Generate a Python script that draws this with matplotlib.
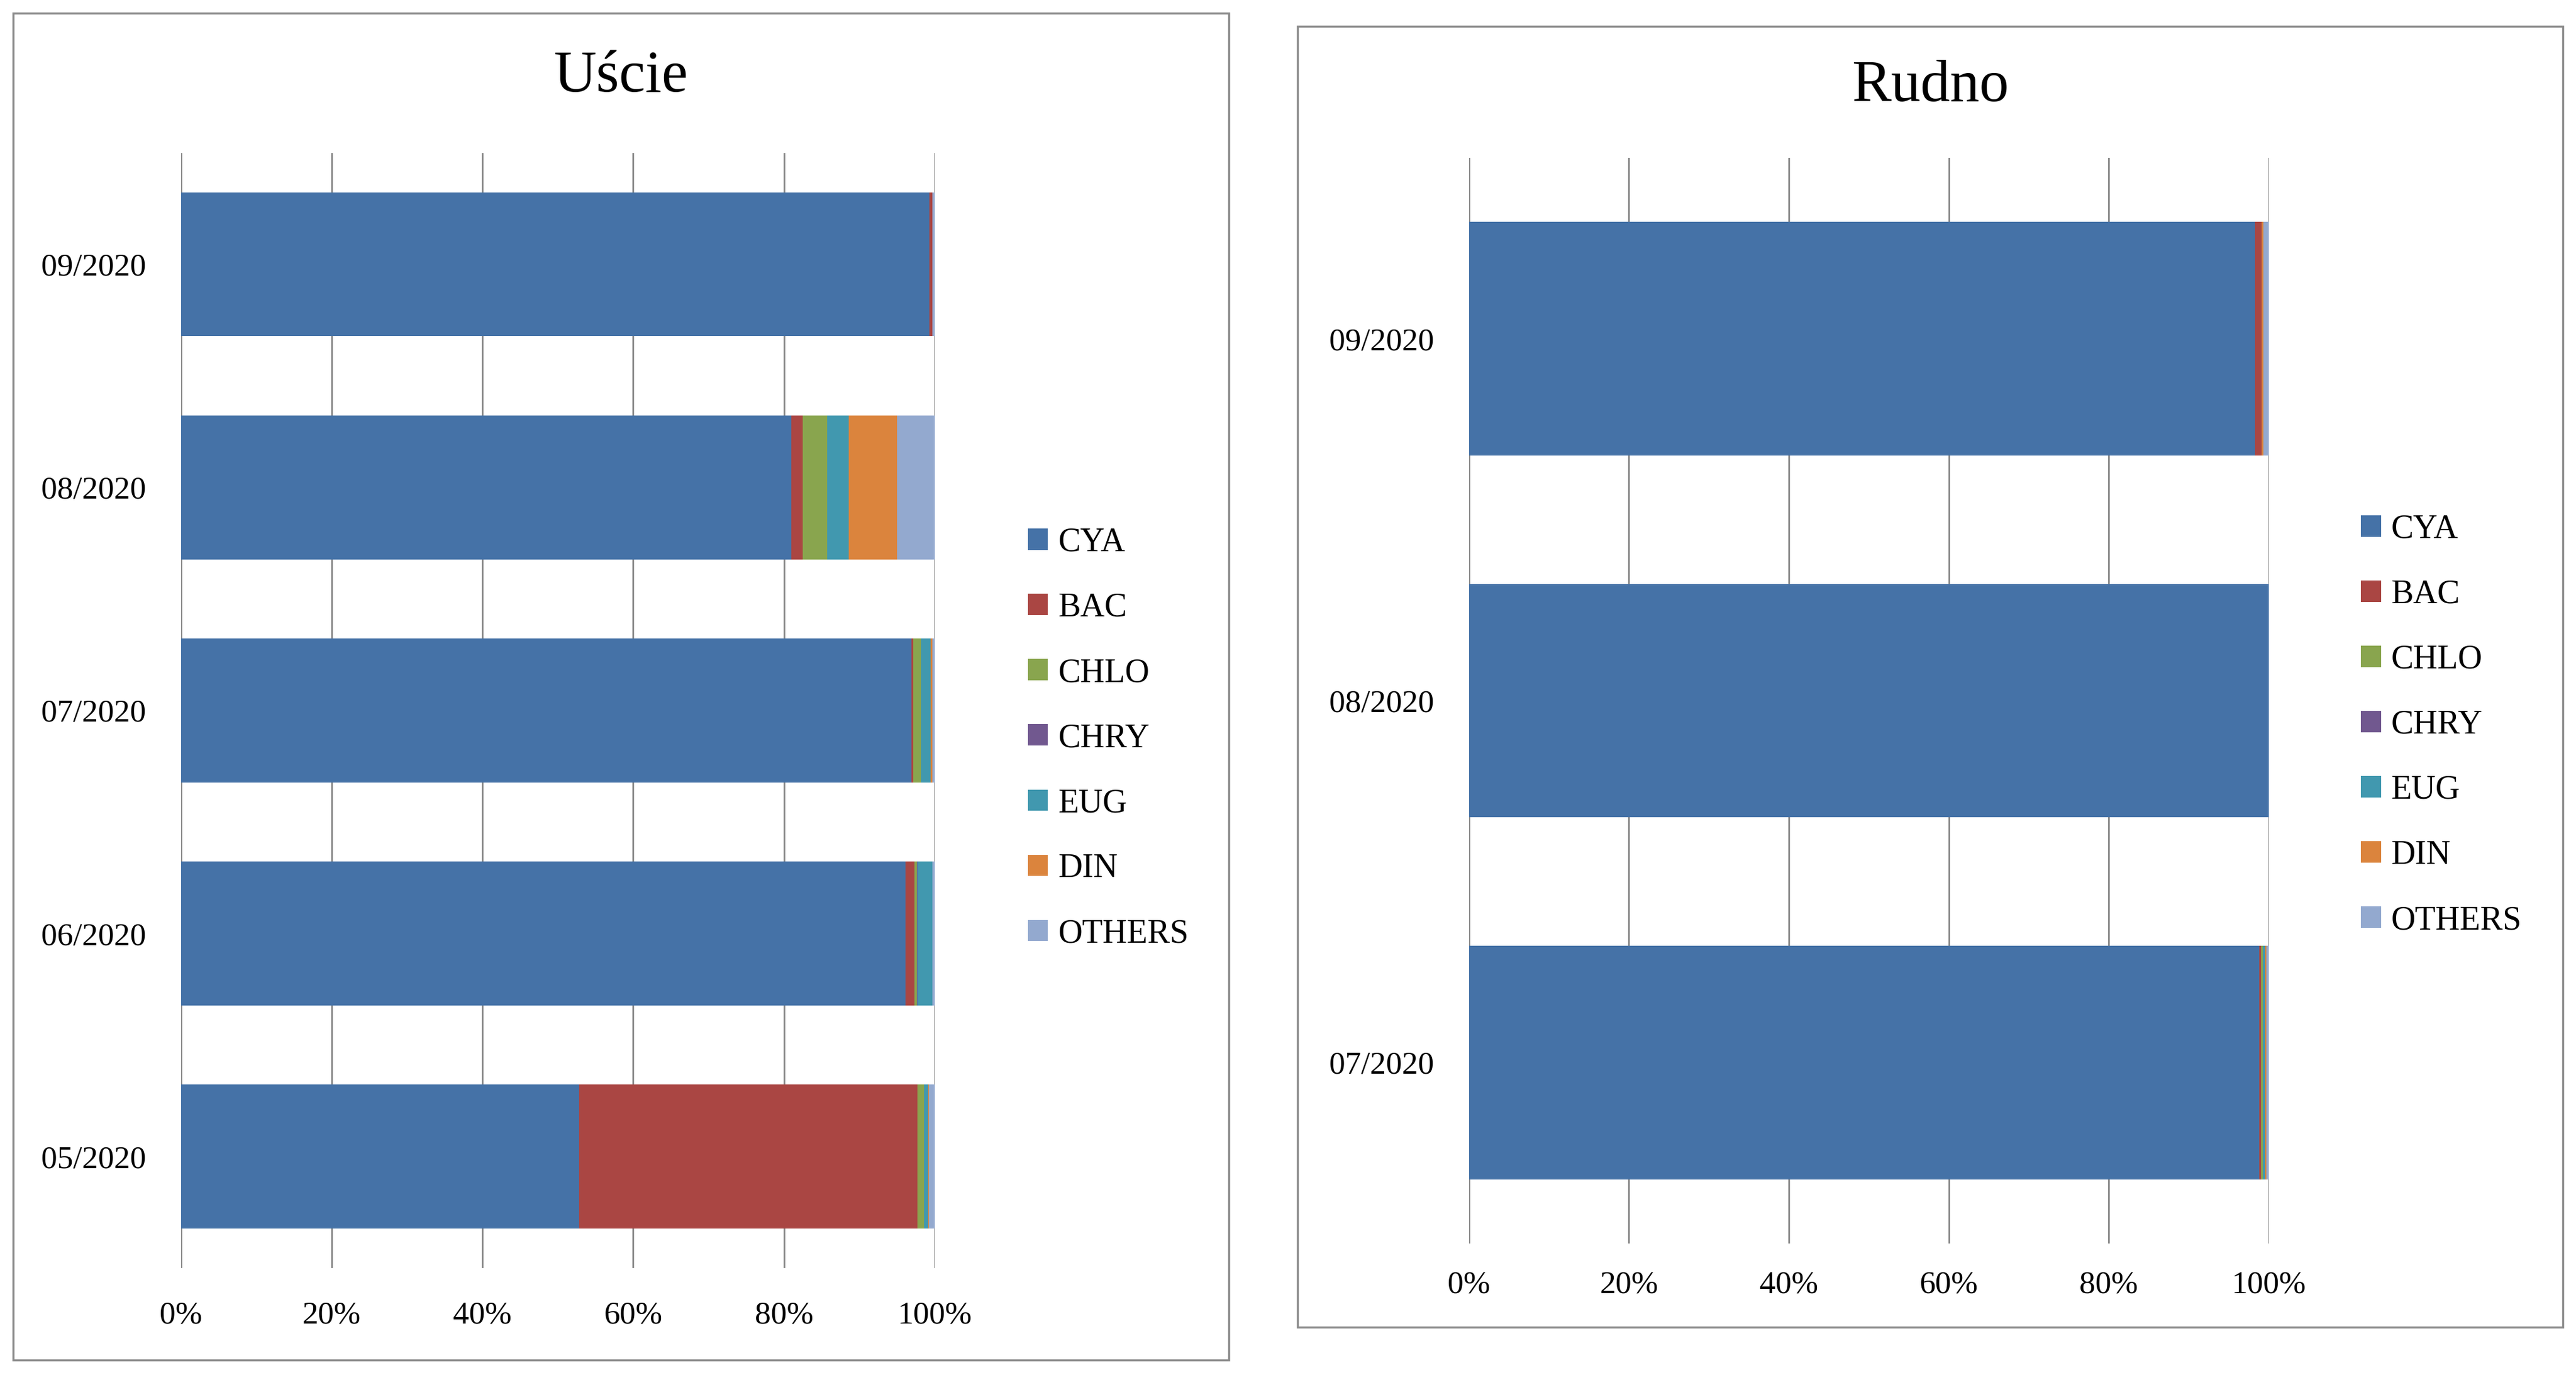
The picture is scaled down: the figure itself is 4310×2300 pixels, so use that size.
import matplotlib.pyplot as plt
import numpy as np
from matplotlib.patches import Rectangle, Patch
from matplotlib.ticker import PercentFormatter

groups = ['CYA', 'BAC', 'CHLO', 'CHRY', 'EUG', 'DIN', 'OTHERS']
colors = ['#4572A7', '#AA4643', '#89A54E', '#71588F', '#4198AF', '#DB843D', '#93A9CF']

# Uście, bottom to top
uscie_months = ['05/2020', '06/2020', '07/2020', '08/2020', '09/2020']
uscie_cya = [52.8, 96.1, 96.9, 81.0, 99.3]
uscie_bac = [44.9, 1.2, 0.2, 1.5, 0.4]
uscie_chlo = [0.9, 0.3, 1.1, 3.2, 0.0]
uscie_chry = [0.0, 0.1, 0.0, 0.0, 0.0]
uscie_eug = [0.5, 2.0, 1.2, 2.9, 0.0]
uscie_din = [0.1, 0.0, 0.3, 6.4, 0.0]
uscie_others = [0.8, 0.3, 0.3, 5.0, 0.3]

# Rudno, bottom to top
rudno_months = ['07/2020', '08/2020', '09/2020']
rudno_cya = [98.8, 100.0, 98.3]
rudno_bac = [0.25, 0.0, 0.8]
rudno_chlo = [0.25, 0.0, 0.0]
rudno_chry = [0.0, 0.0, 0.0]
rudno_eug = [0.25, 0.0, 0.0]
rudno_din = [0.2, 0.0, 0.25]
rudno_others = [0.25, 0.0, 0.65]

plt.rcParams['font.family'] = ['Liberation Serif', 'DejaVu Serif']

fig = plt.figure(figsize=(43.1, 23), dpi=100)


def panel(rect, months, series, title, title_xy, leg_xy, pad_x, frame):
    fig.patches.append(Rectangle(frame[:2], frame[2], frame[3], transform=fig.transFigure,
                                 fill=False, edgecolor='#8c8c8c', linewidth=2.5))
    ax = fig.add_axes(rect)
    y = np.arange(len(months))
    left = np.zeros(len(months))
    tot = np.array([sum(s[i] for s in series) for i in range(len(months))])
    for vals, c in zip(series, colors):
        v = np.array(vals, dtype=float) / tot * 100
        ax.barh(y, v, left=left, height=0.645, color=c, edgecolor='none', zorder=3)
        left += v
    ax.set_xlim(0, 100)
    ax.set_ylim(-0.5, len(months) - 0.5)
    ax.set_yticks(y)
    ax.set_yticklabels(months)
    ax.set_xticks(np.arange(0, 101, 20))
    ax.xaxis.set_major_formatter(PercentFormatter(decimals=0))
    ax.grid(axis='x', color='#868686', linewidth=2, zorder=0)
    for s in ax.spines.values():
        s.set_visible(False)
    ax.tick_params(axis='both', length=0, labelsize=38.5, colors='black')
    ax.tick_params(axis='y', pad=42)
    ax.tick_params(axis='x', pad=pad_x)
    fig.text(title_xy[0], title_xy[1], title, ha='center', va='center', fontsize=71)
    handles = [Patch(facecolor=c, edgecolor='none') for c in colors]
    fig.legend(handles, groups, loc='center left', bbox_to_anchor=leg_xy,
               bbox_transform=fig.transFigure, frameon=False, fontsize=40.5,
               labelspacing=1.015, handlelength=0.6, handleheight=0.6,
               handletextpad=0.3, borderpad=0, borderaxespad=0)
    return ax


panel([0.0702, 0.0777, 0.2927, 0.8112], uscie_months,
      [uscie_cya, uscie_bac, uscie_chlo, uscie_chry, uscie_eug, uscie_din, uscie_others],
      'Uście', (0.2411, 0.944), (0.399, 0.463), 40, (0.0051, 0.0108, 0.4719, 0.9796))
panel([0.5702, 0.0956, 0.3105, 0.7897], rudno_months,
      [rudno_cya, rudno_bac, rudno_chlo, rudno_chry, rudno_eug, rudno_din, rudno_others],
      'Rudno', (0.7494, 0.937), (0.9165, 0.4727), 33, (0.5038, 0.0346, 0.4911, 0.9463))

fig.savefig('out.png', dpi=100, facecolor='white')
